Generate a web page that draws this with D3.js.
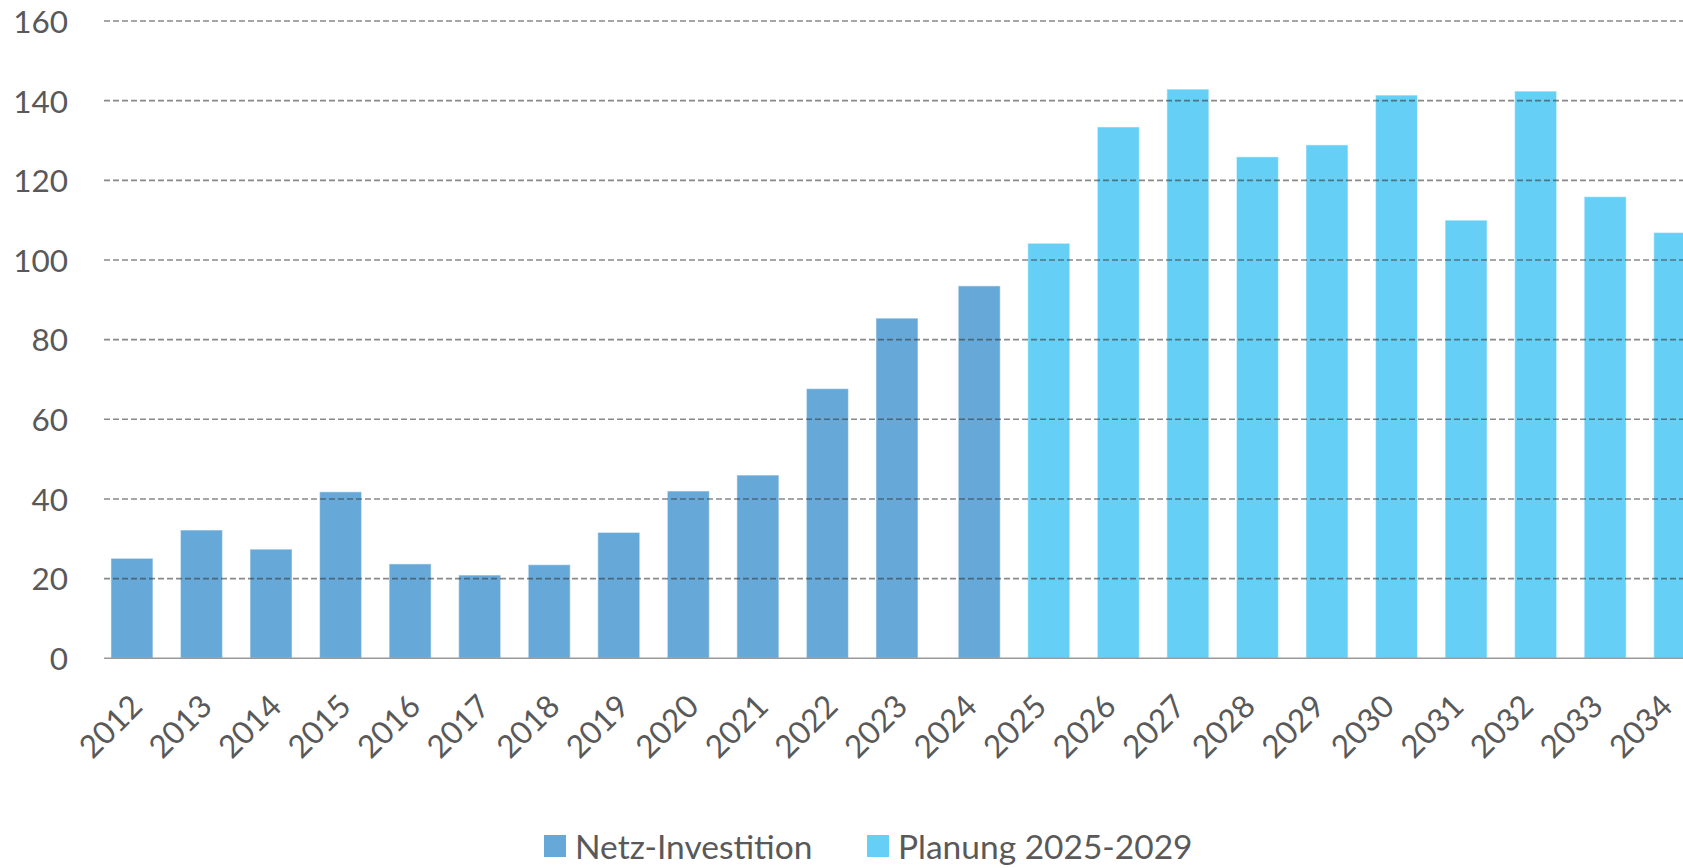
<!DOCTYPE html>
<html>
<head>
<meta charset="utf-8">
<script src="https://cdn.jsdelivr.net/npm/d3@7"></script>
<style>
  html, body { margin: 0; padding: 0; background: #ffffff; overflow: hidden; }
  svg { display: block; font-family: Lato, "Open Sans", sans-serif; }
</style>
</head>
<body>
<svg id="chart" width="1683" height="868"></svg>
<script>
// ---- data ----
const years = ["2012","2013","2014","2015","2016","2017","2018","2019","2020","2021","2022","2023","2024","2025","2026","2027","2028","2029","2030","2031","2032","2033","2034"];
const values = [25.1, 32.2, 27.4, 41.8, 23.7, 20.9, 23.5, 31.6, 42.0, 46.0, 67.7, 85.4, 93.5, 104.2, 133.4, 142.9, 125.9, 128.9, 141.4, 110.0, 142.4, 115.9, 106.9];
// legend group of each bar (colour)
const groups = ["Netz","Netz","Netz","Netz","Netz","Netz","Netz","Netz","Netz","Netz","Netz","Netz","Netz","Plan","Plan","Plan","Plan","Plan","Plan","Plan","Plan","Plan","Plan"];
// series slot each bar sits in (clustered, overlapping series)
const slots = ["A","A","A","A","A","A","A","A","A","A","A","A","B","B","B","B","B","B","B","B","B","B","B"];
const legendLabels = ["Netz-Investition", "Planung 2025-2029"];
const yTicks = [0, 20, 40, 60, 80, 100, 120, 140, 160];

const data = years.map((y, i) => ({ year: y, value: values[i], group: groups[i], slot: slots[i] }));

// ---- layout ----
const svg = d3.select("#chart");
const plotLeft = 103.5, step = 69.55;
const y0 = 658.3, yTop = 21;
const textColor = "#595959";

const x = d3.scaleBand().domain(years).range([plotLeft, plotLeft + step * years.length]).paddingInner(0).paddingOuter(0);
const slotOffset = d3.scalePoint().domain(["A", "B"]).range([-6.35, 6.35]);
const barW = 42;
const y = d3.scaleLinear().domain([0, 160]).range([y0, yTop]);
const color = d3.scaleOrdinal().domain(["Netz", "Plan"]).range(["#66a8d7", "#66cff5"]);

// bars
svg.append("g").selectAll("rect").data(data).join("rect")
  .attr("x", d => x(d.year) + x.bandwidth() / 2 + slotOffset(d.slot) - barW / 2)
  .attr("y", d => y(d.value))
  .attr("width", barW)
  .attr("height", d => y(0) - y(d.value))
  .attr("fill", d => color(d.group))
  .attr("stroke", "#ffffff")
  .attr("stroke-opacity", 0.45)
  .attr("stroke-width", 1.2);

// gridlines (drawn on top of bars)
const grid = svg.append("g");
grid.selectAll("line").data(yTicks.filter(t => t > 0)).join("line")
  .attr("x1", plotLeft + 0.5).attr("x2", 1683)
  .attr("y1", d => y(d)).attr("y2", d => y(d))
  .attr("stroke", "#3a3a3a").attr("stroke-opacity", 0.6)
  .attr("stroke-width", 1.6)
  .attr("stroke-dasharray", "6,3");

// base axis line
svg.append("line")
  .attr("x1", plotLeft + 0.5).attr("x2", 1683)
  .attr("y1", y(0)).attr("y2", y(0))
  .attr("stroke", "#9a9a9a").attr("stroke-width", 1.5);

// y axis labels
const yAxis = d3.axisLeft(y).tickValues(yTicks).tickSize(0).tickPadding(0);
const gy = svg.append("g").attr("transform", "translate(68,0)").call(yAxis);
gy.select(".domain").remove();
gy.selectAll("text")
  .attr("fill", textColor)
  .style("font-size", "31.5px")
  .style("font-family", "Lato, 'Open Sans', sans-serif")
  .attr("dy", "0.36em");

// x axis labels
const xAxis = d3.axisBottom(x).tickSize(0).tickPadding(0);
const gx = svg.append("g").attr("transform", `translate(0,${y0})`).call(xAxis);
gx.select(".domain").remove();
gx.selectAll("text")
  .attr("fill", textColor)
  .style("font-size", "31.5px")
  .style("font-family", "Lato, 'Open Sans', sans-serif")
  .attr("text-anchor", "end")
  .attr("dy", null)
  .attr("y", 0)
  .attr("transform", "translate(6,50) rotate(-45)");

// legend
const legendItems = [
  { label: legendLabels[0], group: "Netz", x: 544 },
  { label: legendLabels[1], group: "Plan", x: 867 }
];
const lg = svg.append("g");
const li = lg.selectAll("g").data(legendItems).join("g")
  .attr("transform", d => `translate(${d.x},835)`);
li.append("rect").attr("width", 22).attr("height", 22).attr("fill", d => color(d.group));
li.append("text")
  .attr("x", 31).attr("y", 24)
  .attr("fill", textColor)
  .style("font-size", "33.5px")
  .text(d => d.label);
</script>
</body>
</html>
